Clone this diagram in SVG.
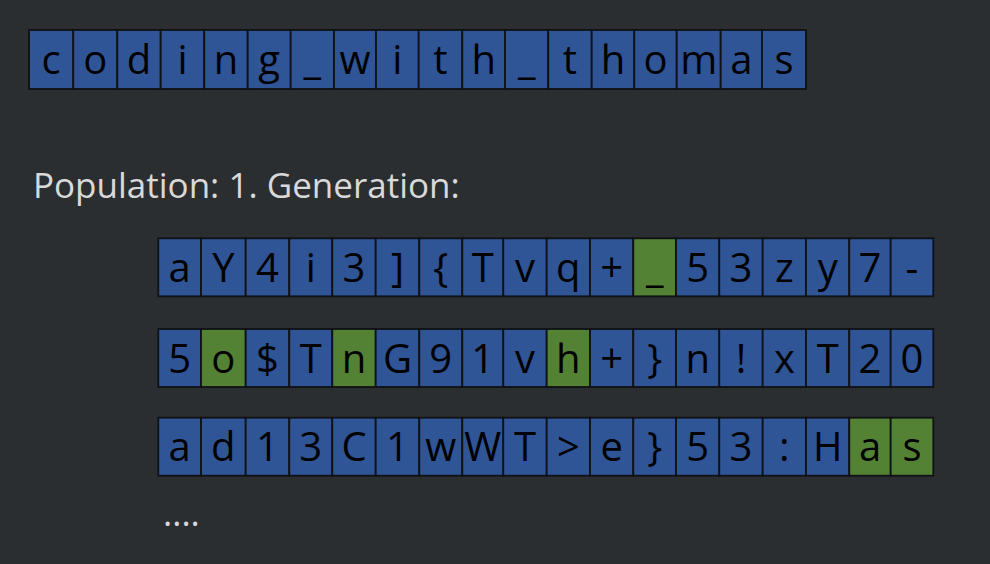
<svg xmlns="http://www.w3.org/2000/svg" width="990" height="564" viewBox="0 0 990 564">
<style>
.bg{fill:#2b2e31}
.b{fill:#2f5597;stroke:#0f1115;stroke-width:1.8}
.g{fill:#548235;stroke:#0f1115;stroke-width:1.8}
.c{font-family:"Open Sans","Liberation Sans",sans-serif;font-size:40px;fill:#000;text-anchor:middle}
.lbl{font-family:"Open Sans","Liberation Sans",sans-serif;font-size:35px;fill:#d9d9d9}
</style>
<rect class="bg" x="0" y="0" width="990" height="564"/>
<g id="target">
<g id="t1"><rect class="b" x="29" y="30" width="44.3" height="59"/><text class="c" x="51.15" y="73.5">c</text></g>
<g id="t2"><rect class="b" x="73.3" y="30" width="44" height="59"/><text class="c" x="95.3" y="73.5">o</text></g>
<g id="t3"><rect class="b" x="117.3" y="30" width="43.4" height="59"/><text class="c" x="139" y="73.5">d</text></g>
<g id="t4"><rect class="b" x="160.7" y="30" width="43.6" height="59"/><text class="c" x="182.5" y="73.5">i</text></g>
<g id="t5"><rect class="b" x="204.3" y="30" width="43.4" height="59"/><text class="c" x="226" y="73.5">n</text></g>
<g id="t6"><rect class="b" x="247.7" y="30" width="43" height="59"/><text class="c" x="269.2" y="73.5">g</text></g>
<g id="t7"><rect class="b" x="290.7" y="30" width="43.3" height="59"/><text class="c" x="312.35" y="73.5">_</text></g>
<g id="t8"><rect class="b" x="334" y="30" width="42" height="59"/><text class="c" x="355" y="73.5">w</text></g>
<g id="t9"><rect class="b" x="376" y="30" width="42.7" height="59"/><text class="c" x="397.35" y="73.5">i</text></g>
<g id="t10"><rect class="b" x="418.7" y="30" width="43.6" height="59"/><text class="c" x="440.5" y="73.5">t</text></g>
<g id="t11"><rect class="b" x="462.3" y="30" width="42.7" height="59"/><text class="c" x="483.65" y="73.5">h</text></g>
<g id="t12"><rect class="b" x="505" y="30" width="43.3" height="59"/><text class="c" x="526.65" y="73.5">_</text></g>
<g id="t13"><rect class="b" x="548.3" y="30" width="43.4" height="59"/><text class="c" x="570" y="73.5">t</text></g>
<g id="t14"><rect class="b" x="591.7" y="30" width="42.6" height="59"/><text class="c" x="613" y="73.5">h</text></g>
<g id="t15"><rect class="b" x="634.3" y="30" width="42.4" height="59"/><text class="c" x="655.5" y="73.5">o</text></g>
<g id="t16"><rect class="b" x="676.7" y="30" width="44" height="59"/><text class="c" x="698.7" y="73.5">m</text></g>
<g id="t17"><rect class="b" x="720.7" y="30" width="41.3" height="59"/><text class="c" x="741.35" y="73.5">a</text></g>
<g id="t18"><rect class="b" x="762" y="30" width="44" height="59"/><text class="c" x="784" y="73.5">s</text></g>
</g>
<text id="label" class="lbl" x="33" y="198">Population: 1. Generation:</text>
<g id="row1">
<g id="r1c1"><rect class="b" x="158.3" y="238.3" width="42.7" height="58"/><text class="c" x="179.65" y="281.7">a</text></g>
<g id="r1c2"><rect class="b" x="201" y="238.3" width="44.7" height="58"/><text class="c" x="223.35" y="281.7">Y</text></g>
<g id="r1c3"><rect class="b" x="245.7" y="238.3" width="43.6" height="58"/><text class="c" x="267.5" y="281.7">4</text></g>
<g id="r1c4"><rect class="b" x="289.3" y="238.3" width="43" height="58"/><text class="c" x="310.8" y="281.7">i</text></g>
<g id="r1c5"><rect class="b" x="332.3" y="238.3" width="43.4" height="58"/><text class="c" x="354" y="281.7">3</text></g>
<g id="r1c6"><rect class="b" x="375.7" y="238.3" width="43.6" height="58"/><text class="c" x="397.5" y="281.7">]</text></g>
<g id="r1c7"><rect class="b" x="419.3" y="238.3" width="43" height="58"/><text class="c" x="440.8" y="281.7">{</text></g>
<g id="r1c8"><rect class="b" x="462.3" y="238.3" width="41" height="58"/><text class="c" x="482.8" y="281.7">T</text></g>
<g id="r1c9"><rect class="b" x="503.3" y="238.3" width="43.4" height="58"/><text class="c" x="525" y="281.7">v</text></g>
<g id="r1c10"><rect class="b" x="546.7" y="238.3" width="43.3" height="58"/><text class="c" x="568.35" y="281.7">q</text></g>
<g id="r1c11"><rect class="b" x="590" y="238.3" width="43.3" height="58"/><text class="c" x="611.65" y="281.7">+</text></g>
<g id="r1c12"><rect class="g" x="633.3" y="238.3" width="42.7" height="58"/><text class="c" x="654.65" y="281.7">_</text></g>
<g id="r1c13"><rect class="b" x="676" y="238.3" width="43.3" height="58"/><text class="c" x="697.65" y="281.7">5</text></g>
<g id="r1c14"><rect class="b" x="719.3" y="238.3" width="43.4" height="58"/><text class="c" x="741" y="281.7">3</text></g>
<g id="r1c15"><rect class="b" x="762.7" y="238.3" width="43.3" height="58"/><text class="c" x="784.35" y="281.7">z</text></g>
<g id="r1c16"><rect class="b" x="806" y="238.3" width="43.3" height="58"/><text class="c" x="827.65" y="281.7">y</text></g>
<g id="r1c17"><rect class="b" x="849.3" y="238.3" width="41.4" height="58"/><text class="c" x="870" y="281.7">7</text></g>
<g id="r1c18"><rect class="b" x="890.7" y="238.3" width="42.6" height="58"/><text class="c" x="912" y="281.7">-</text></g>
</g>
<g id="row2">
<g id="r2c1"><rect class="b" x="158.3" y="329" width="42.7" height="58"/><text class="c" x="179.65" y="372.5">5</text></g>
<g id="r2c2"><rect class="g" x="201" y="329" width="44.7" height="58"/><text class="c" x="223.35" y="372.5">o</text></g>
<g id="r2c3"><rect class="b" x="245.7" y="329" width="43.6" height="58"/><text class="c" x="267.5" y="372.5">$</text></g>
<g id="r2c4"><rect class="b" x="289.3" y="329" width="43" height="58"/><text class="c" x="310.8" y="372.5">T</text></g>
<g id="r2c5"><rect class="g" x="332.3" y="329" width="43.4" height="58"/><text class="c" x="354" y="372.5">n</text></g>
<g id="r2c6"><rect class="b" x="375.7" y="329" width="43.6" height="58"/><text class="c" x="397.5" y="372.5">G</text></g>
<g id="r2c7"><rect class="b" x="419.3" y="329" width="43" height="58"/><text class="c" x="440.8" y="372.5">9</text></g>
<g id="r2c8"><rect class="b" x="462.3" y="329" width="41" height="58"/><text class="c" x="482.8" y="372.5">1</text></g>
<g id="r2c9"><rect class="b" x="503.3" y="329" width="43.4" height="58"/><text class="c" x="525" y="372.5">v</text></g>
<g id="r2c10"><rect class="g" x="546.7" y="329" width="43.3" height="58"/><text class="c" x="568.35" y="372.5">h</text></g>
<g id="r2c11"><rect class="b" x="590" y="329" width="43.3" height="58"/><text class="c" x="611.65" y="372.5">+</text></g>
<g id="r2c12"><rect class="b" x="633.3" y="329" width="42.7" height="58"/><text class="c" x="654.65" y="372.5">}</text></g>
<g id="r2c13"><rect class="b" x="676" y="329" width="43.3" height="58"/><text class="c" x="697.65" y="372.5">n</text></g>
<g id="r2c14"><rect class="b" x="719.3" y="329" width="43.4" height="58"/><text class="c" x="741" y="372.5">!</text></g>
<g id="r2c15"><rect class="b" x="762.7" y="329" width="43.3" height="58"/><text class="c" x="784.35" y="372.5">x</text></g>
<g id="r2c16"><rect class="b" x="806" y="329" width="43.3" height="58"/><text class="c" x="827.65" y="372.5">T</text></g>
<g id="r2c17"><rect class="b" x="849.3" y="329" width="41.4" height="58"/><text class="c" x="870" y="372.5">2</text></g>
<g id="r2c18"><rect class="b" x="890.7" y="329" width="42.6" height="58"/><text class="c" x="912" y="372.5">0</text></g>
</g>
<g id="row3">
<g id="r3c1"><rect class="b" x="158.3" y="417.7" width="42.7" height="58"/><text class="c" x="179.65" y="461">a</text></g>
<g id="r3c2"><rect class="b" x="201" y="417.7" width="44.7" height="58"/><text class="c" x="223.35" y="461">d</text></g>
<g id="r3c3"><rect class="b" x="245.7" y="417.7" width="43.6" height="58"/><text class="c" x="267.5" y="461">1</text></g>
<g id="r3c4"><rect class="b" x="289.3" y="417.7" width="43" height="58"/><text class="c" x="310.8" y="461">3</text></g>
<g id="r3c5"><rect class="b" x="332.3" y="417.7" width="43.4" height="58"/><text class="c" x="354" y="461">C</text></g>
<g id="r3c6"><rect class="b" x="375.7" y="417.7" width="43.6" height="58"/><text class="c" x="397.5" y="461">1</text></g>
<g id="r3c7"><rect class="b" x="419.3" y="417.7" width="43" height="58"/><text class="c" x="440.8" y="461">w</text></g>
<g id="r3c8"><rect class="b" x="462.3" y="417.7" width="41" height="58"/><text class="c" x="482.8" y="461">W</text></g>
<g id="r3c9"><rect class="b" x="503.3" y="417.7" width="43.4" height="58"/><text class="c" x="525" y="461">T</text></g>
<g id="r3c10"><rect class="b" x="546.7" y="417.7" width="43.3" height="58"/><text class="c" x="568.35" y="461">&gt;</text></g>
<g id="r3c11"><rect class="b" x="590" y="417.7" width="43.3" height="58"/><text class="c" x="611.65" y="461">e</text></g>
<g id="r3c12"><rect class="b" x="633.3" y="417.7" width="42.7" height="58"/><text class="c" x="654.65" y="461">}</text></g>
<g id="r3c13"><rect class="b" x="676" y="417.7" width="43.3" height="58"/><text class="c" x="697.65" y="461">5</text></g>
<g id="r3c14"><rect class="b" x="719.3" y="417.7" width="43.4" height="58"/><text class="c" x="741" y="461">3</text></g>
<g id="r3c15"><rect class="b" x="762.7" y="417.7" width="43.3" height="58"/><text class="c" x="784.35" y="461">:</text></g>
<g id="r3c16"><rect class="b" x="806" y="417.7" width="43.3" height="58"/><text class="c" x="827.65" y="461">H</text></g>
<g id="r3c17"><rect class="g" x="849.3" y="417.7" width="41.4" height="58"/><text class="c" x="870" y="461">a</text></g>
<g id="r3c18"><rect class="g" x="890.7" y="417.7" width="42.6" height="58"/><text class="c" x="912" y="461">s</text></g>
</g>
<text id="dots" class="lbl" x="163" y="526">....</text>
</svg>
